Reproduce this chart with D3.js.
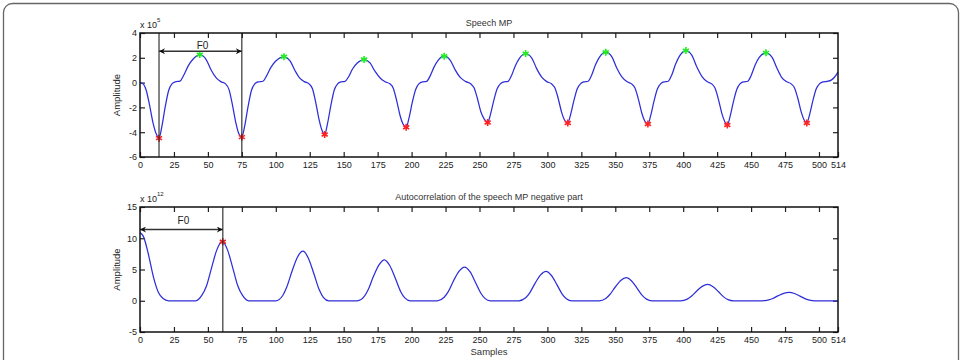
<!DOCTYPE html>
<html>
<head>
<meta charset="utf-8">
<script src="https://cdn.jsdelivr.net/npm/d3@7"></script>
<style>
  html, body { margin: 0; padding: 0; background: #fff; }
  svg { display: block; font-family: "Liberation Sans", Arial, sans-serif; }
  .tick text { font-size: 9px; fill: #222; }
  .tick line { stroke: #222; stroke-width: 1.2; }
</style>
</head>
<body>
<div id="chart"></div>
<script>
// sample axis, shared by both panels
const xTicks = [0, 25, 50, 75, 100, 125, 150, 175, 200, 225, 250, 275, 300, 325, 350, 375, 400, 425, 450, 475, 500, 514];
const speechYTicks = [-6, -4, -2, 0, 2, 4];
const acorrYTicks = [-5, 0, 5, 10, 15];

// speech MP, amplitude in units of 1e5
const speechCurve = [
  [0, 0], [2, -0.08], [4.5, -0.6], [7, -1.8], [9.5, -3.2], [12, -4.15], [14, -4.48],
  [16, -3.6], [18.5, -2.0], [21, -0.68], [23.5, -0.1], [26, 0.06], [29.5, 0.12], [32, 0.55], [35.5, 1.35], [39, 1.88], [44, 2.26],
  [48.5, 1.9], [52, 1.1], [56, 0.4], [59.5, 0.08], [63, -0.1], [65.5, -0.55], [68, -1.75], [70.5, -3.2], [72.5, -4.05], [75, -4.4],
  [77, -3.55], [79.5, -1.98], [82, -0.66], [84.5, -0.1], [87, 0.06], [90.5, 0.11], [93, 0.5], [96.5, 1.25], [100, 1.74], [106, 2.08],
  [110.5, 1.75], [114, 1.0], [117.5, 0.38], [121, 0.08], [124.5, -0.1], [127, -0.5], [129.5, -1.65], [132, -3.05], [134, -3.85], [136, -4.19],
  [138, -3.35], [140.5, -1.88], [143, -0.62], [145.5, -0.1], [148, 0.06], [151, 0.1], [153.5, 0.45], [156.5, 1.1], [160, 1.58], [165, 1.86],
  [169.5, 1.57], [173, 0.92], [177, 0.35], [180.5, 0.07], [184, -0.1], [186.5, -0.45], [189, -1.45], [191.5, -2.65], [193.5, -3.3], [196, -3.6],
  [198, -2.9], [200.5, -1.6], [203, -0.55], [205.5, -0.08], [208, 0.06], [211, 0.1], [213.5, 0.5], [216.5, 1.25], [219.5, 1.8], [224, 2.13],
  [228.5, 1.8], [232, 1.05], [236, 0.4], [240, 0.08], [243.5, -0.1], [246, -0.42], [248.5, -1.3], [251, -2.35], [253.5, -2.95], [256, -3.22],
  [258, -2.6], [260.5, -1.45], [263, -0.5], [265.5, -0.08], [268, 0.06], [271, 0.1], [273.5, 0.55], [276.5, 1.38], [279.5, 1.98], [284, 2.34],
  [288.5, 1.98], [292, 1.15], [296, 0.42], [299.5, 0.08], [303, -0.1], [305.5, -0.42], [308, -1.3], [310.5, -2.4], [312.5, -3.0], [315, -3.26],
  [317, -2.62], [319.5, -1.46], [322, -0.5], [324.5, -0.08], [327, 0.06], [330, 0.11], [332.5, 0.58], [335.5, 1.45], [338.5, 2.07], [343, 2.45],
  [347.5, 2.07], [351, 1.2], [355, 0.44], [358.5, 0.08], [362, -0.1], [364.5, -0.43], [367, -1.33], [369.5, -2.45], [371.5, -3.05], [374, -3.34],
  [376, -2.68], [378.5, -1.5], [381, -0.52], [383.5, -0.08], [386, 0.06], [389, 0.11], [391.5, 0.6], [394.5, 1.52], [397.5, 2.18], [402, 2.58],
  [406.5, 2.18], [410, 1.27], [414, 0.46], [417.5, 0.08], [421, -0.1], [423.5, -0.45], [426, -1.37], [428.5, -2.5], [430.5, -3.12], [432.5, -3.42],
  [434.5, -2.75], [437, -1.53], [439.5, -0.53], [442, -0.08], [444.5, 0.06], [447.5, 0.11], [450, 0.56], [453, 1.42], [456, 2.03], [461, 2.4],
  [465.5, 2.03], [469, 1.18], [472.5, 0.43], [476, 0.08], [479.5, -0.1], [482, -0.43], [484.5, -1.3], [487, -2.4], [489, -3.0], [491, -3.26],
  [493, -2.62], [495.5, -1.46], [498, -0.5], [500.5, -0.08], [503, 0.06], [506, 0.1], [509, 0.2], [511.5, 0.45], [514, 0.85]
];
const speechMinima = [[14, -4.48], [75, -4.4], [136, -4.19], [196, -3.6], [256, -3.22], [315, -3.26], [374, -3.34], [432.5, -3.42], [491, -3.26]];
const speechMaxima = [[44, 2.26], [106, 2.08], [165, 1.86], [224, 2.13], [284, 2.34], [343, 2.45], [402, 2.58], [461, 2.4]];
const speechF0 = [14, 75];

// autocorrelation of the negative part, units of 1e12
const acorrCurve = [
  [0, 10.9], [2.5, 10.3], [6, 7.6], [10, 3.7], [13.5, 1.35], [17, 0.35], [21, 0],
  [41, 0], [45.5, 0.85], [49, 2.4], [52.5, 5.1], [56.5, 8.1], [60.5, 9.5], [64.5, 8.1], [68.5, 5.1], [72, 2.4], [75.5, 0.85], [80, 0],
  [100, 0], [105, 0.8], [108, 2.15], [112, 4.75], [116, 7.0], [120, 7.93], [124, 6.8], [128, 4.35], [132, 1.75], [135, 0.55], [139, 0],
  [160, 0], [165, 0.65], [168, 1.75], [172, 3.95], [176, 5.75], [180, 6.55], [184, 5.6], [188, 3.6], [192, 1.45], [195, 0.45], [199, 0],
  [219, 0], [224, 0.55], [227, 1.45], [231, 3.25], [235, 4.75], [239, 5.4], [243, 4.65], [247, 2.95], [251, 1.2], [254, 0.38], [258, 0],
  [279, 0], [284, 0.47], [287, 1.27], [291, 2.82], [295, 4.13], [299, 4.7], [303, 4.04], [307, 2.58], [311, 1.03], [314, 0.33], [318, 0],
  [338, 0], [343, 0.37], [346, 1.0], [350, 2.2], [354, 3.25], [358, 3.69], [362, 3.17], [366, 2.03], [370, 0.81], [373, 0.26], [377, 0],
  [398, 0], [403, 0.26], [406, 0.71], [410, 1.57], [414, 2.3], [418, 2.62], [422, 2.25], [426, 1.44], [430, 0.58], [433, 0.18], [437, 0],
  [458, 0], [463, 0.14], [466, 0.36], [470, 0.81], [474, 1.19], [478, 1.35], [482, 1.16], [486, 0.74], [490, 0.3], [493, 0.09], [497, 0],
  [514, 0]
];
const acorrPeak = [[61, 9.45]];
const acorrF0 = [0, 61];

const width = 963, height = 360;
const svg = d3.select('#chart').append('svg')
  .attr('width', width)
  .attr('height', height);

// figure frame
svg.append('rect')
  .attr('x', 3.5).attr('y', 3.5)
  .attr('width', 955).attr('height', 420)
  .attr('rx', 9)
  .attr('fill', 'none')
  .attr('stroke', '#666')
  .attr('stroke-width', 1.3);

const defs = svg.append('defs');
defs.append('marker')
  .attr('id', 'arrow')
  .attr('viewBox', '0 0 10 10')
  .attr('refX', 10).attr('refY', 5)
  .attr('markerWidth', 9).attr('markerHeight', 6)
  .attr('markerUnits', 'userSpaceOnUse')
  .attr('orient', 'auto-start-reverse')
  .append('path')
  .attr('d', 'M0,0L10,5L0,10L3,5Z')
  .attr('fill', '#111');

const asterisk = d3.symbolAsterisk || d3.symbolCross;
// matlab prints a plain hyphen for negatives
const plainNum = d => String(d);

function drawPanel(opts) {
  const x = d3.scaleLinear().domain([0, 514]).range([140, 838]);
  const y = d3.scaleLinear().domain(opts.yDomain).range(opts.yRange);
  const g = svg.append('g');
  const top = opts.yRange[1], bottom = opts.yRange[0];

  g.append('g')
    .attr('transform', 'translate(0,' + bottom + ')')
    .call(d3.axisBottom(x).tickValues(xTicks).tickSize(-5).tickPadding(5).tickFormat(plainNum))
    .call(a => a.select('.domain').remove());
  g.append('g')
    .attr('transform', 'translate(0,' + top + ')')
    .call(d3.axisTop(x).tickValues(xTicks.slice(0, -1)).tickSize(-5).tickFormat(''))
    .call(a => a.select('.domain').remove());
  g.append('g')
    .attr('transform', 'translate(140,0)')
    .call(d3.axisLeft(y).tickValues(opts.yTicks).tickSize(-5).tickPadding(3).tickFormat(plainNum))
    .call(a => a.select('.domain').remove());
  g.append('g')
    .attr('transform', 'translate(838,0)')
    .call(d3.axisRight(y).tickValues(opts.yTicks).tickSize(-5).tickFormat(''))
    .call(a => a.select('.domain').remove());

  const line = d3.line()
    .x(d => x(d[0]))
    .y(d => y(d[1]))
    .curve(d3.curveMonotoneX);

  g.append('path')
    .datum(opts.curve)
    .attr('d', line)
    .attr('fill', 'none')
    .attr('stroke', '#2e2ed8')
    .attr('stroke-width', 1.25);

  opts.marks.forEach(function (m) {
    g.selectAll(null)
      .data(m.points)
      .enter().append('path')
      .attr('transform', d => 'translate(' + x(d[0]) + ',' + y(d[1]) + ')')
      .attr('d', d3.symbol(asterisk, 34))
      .attr('fill', 'none')
      .attr('stroke', m.color)
      .attr('stroke-width', 1.6);
  });

  // F0 markers
  opts.f0Lines.forEach(function (v) {
    g.append('line')
      .attr('x1', x(v)).attr('x2', x(v))
      .attr('y1', top).attr('y2', bottom)
      .attr('stroke', '#222')
      .attr('stroke-width', 1.1);
  });
  g.append('line')
    .attr('x1', x(opts.f0[0])).attr('x2', x(opts.f0[1]))
    .attr('y1', y(opts.f0Level)).attr('y2', y(opts.f0Level))
    .attr('stroke', '#333')
    .attr('stroke-width', 1.3)
    .attr('marker-start', 'url(#arrow)')
    .attr('marker-end', 'url(#arrow)');
  g.append('text')
    .attr('x', x(opts.f0Label[0]))
    .attr('y', y(opts.f0Label[1]))
    .attr('text-anchor', 'middle')
    .attr('font-size', 10)
    .attr('fill', '#222')
    .text('F0');

  g.append('rect')
    .attr('x', 140).attr('y', top)
    .attr('width', 698).attr('height', bottom - top)
    .attr('fill', 'none')
    .attr('stroke', '#111')
    .attr('stroke-width', 1.5);

  g.append('text')
    .attr('x', 489).attr('y', top - 7)
    .attr('text-anchor', 'middle')
    .attr('font-size', 9)
    .attr('fill', '#333')
    .text(opts.title);

  const exp = g.append('text')
    .attr('x', 140).attr('y', top - 5)
    .attr('font-size', 9)
    .attr('fill', '#222');
  exp.append('tspan').text('x 10');
  exp.append('tspan').attr('dy', -6).attr('font-size', 6).text(opts.exponent);

  g.append('text')
    .attr('transform', 'translate(' + 120 + ',' + (top + bottom) / 2 + ') rotate(-90)')
    .attr('text-anchor', 'middle')
    .attr('font-size', 9.5)
    .attr('fill', '#222')
    .text('Amplitude');
}

drawPanel({
  yDomain: [-6, 4], yRange: [157, 33], yTicks: speechYTicks,
  curve: speechCurve,
  marks: [{ points: speechMinima, color: '#f22' }, { points: speechMaxima, color: '#2e2' }],
  f0Lines: speechF0, f0: speechF0, f0Level: 2.53, f0Label: [46, 2.75],
  title: 'Speech MP', exponent: '5'
});

drawPanel({
  yDomain: [-5, 15], yRange: [332, 207], yTicks: acorrYTicks,
  curve: acorrCurve,
  marks: [{ points: acorrPeak, color: '#e22' }],
  f0Lines: [acorrF0[1]], f0: acorrF0, f0Level: 11.4, f0Label: [32, 12.3],
  title: 'Autocorrelation of the speech MP negative part', exponent: '12'
});

svg.append('text')
  .attr('x', 489).attr('y', 355)
  .attr('text-anchor', 'middle')
  .attr('font-size', 9.5)
  .attr('fill', '#333')
  .text('Samples');
</script>
</body>
</html>
